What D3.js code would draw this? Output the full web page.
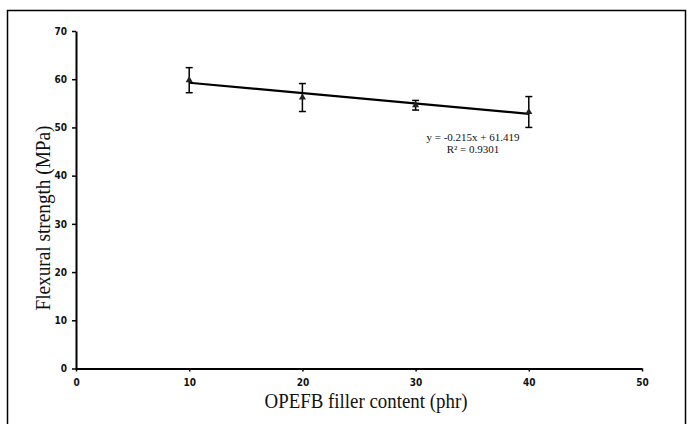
<!DOCTYPE html>
<html><head><meta charset="utf-8">
<script src="https://cdn.jsdelivr.net/npm/d3@7"></script>
<style>body{margin:0;background:#fff;} svg{display:block;}</style>
</head><body>
<script>
const fillerContent = [10, 20, 30, 40];
const flexuralStrength = [59.8, 56.2, 54.6, 53.2];
const errorValues = [2.6, 2.9, 1.0, 3.2];
const xTicks = [0, 10, 20, 30, 40, 50];
const yTicks = [0, 10, 20, 30, 40, 50, 60, 70];
const trendSlope = -0.215, trendIntercept = 61.419;
const trendRange = [10, 40];
const equationLines = ["y = -0.215x + 61.419", "R² = 0.9301"];

const W = 692, H = 424;
const svg = d3.select("body").append("svg").attr("width", W).attr("height", H);
svg.append("rect").attr("x", 7.5).attr("y", 10.5).attr("width", 678).attr("height", 430)
  .attr("fill", "none").attr("stroke", "#000").attr("stroke-width", 1.5);

const x = d3.scaleLinear().domain([0, 50]).range([76, 642]);
const y = d3.scaleLinear().domain([0, 70]).range([368.5, 31]);

const tickFont = "'Liberation Sans Narrow','DejaVu Sans Condensed',sans-serif";

const xAxis = svg.append("g").attr("transform", `translate(0,${y(0)})`)
  .call(d3.axisBottom(x).tickValues(xTicks).tickSize(3).tickSizeOuter(0).tickPadding(7));
const yAxis = svg.append("g").attr("transform", `translate(${x(0)},0)`)
  .call(d3.axisLeft(y).tickValues(yTicks).tickSize(4).tickSizeOuter(0).tickPadding(5));
[xAxis, yAxis].forEach(g => {
  g.select(".domain").attr("stroke-width", 2);
  g.selectAll(".tick line").attr("stroke-width", 1.5);
  g.selectAll("text").attr("font-family", tickFont).attr("font-size", 10).attr("font-weight", "bold").attr("fill", "#111");
});

// trend line
const line = d3.line().x(d => x(d)).y(d => y(trendSlope * d + trendIntercept));
svg.append("path").datum(trendRange).attr("d", line)
  .attr("stroke", "#000").attr("stroke-width", 2.2).attr("fill", "none");

// error bars
const data = fillerContent.map((c, i) => ({c, v: flexuralStrength[i], e: errorValues[i]}));
const eb = svg.append("g").attr("stroke", "#000").attr("stroke-width", 1.5);
data.forEach(d => {
  eb.append("line").attr("x1", x(d.c)).attr("x2", x(d.c)).attr("y1", y(d.v - d.e)).attr("y2", y(d.v + d.e));
  [d.v - d.e, d.v + d.e].forEach(val => {
    eb.append("line").attr("x1", x(d.c) - 3.5).attr("x2", x(d.c) + 3.5).attr("y1", y(val)).attr("y2", y(val));
  });
});
svg.append("g").selectAll("path").data(data).join("path")
  .attr("d", d3.symbol().type(d3.symbolTriangle).size(22))
  .attr("transform", d => `translate(${x(d.c)},${y(d.v)})`)
  .attr("fill", "#222");

// equation
svg.append("g").selectAll("text").data(equationLines).join("text")
  .attr("x", 473).attr("y", (d, i) => 141 + i * 12)
  .attr("text-anchor", "middle").attr("font-family", "'Liberation Serif',serif")
  .attr("font-size", 11).attr("fill", "#111").text(d => d);

// axis titles
svg.append("text").attr("x", 366).attr("y", 408)
  .attr("text-anchor", "middle").attr("font-family", "'Liberation Serif',serif")
  .attr("font-size", 20).attr("textLength", 203).attr("lengthAdjust", "spacingAndGlyphs")
  .attr("fill", "#111").text("OPEFB filler content (phr)");
svg.append("text").attr("transform", `translate(50,${218}) rotate(-90)`)
  .attr("text-anchor", "middle").attr("font-family", "'Liberation Serif',serif")
  .attr("font-size", 20).attr("textLength", 185).attr("lengthAdjust", "spacingAndGlyphs")
  .attr("fill", "#111").text("Flexural strength (MPa)");
</script>
</body></html>
